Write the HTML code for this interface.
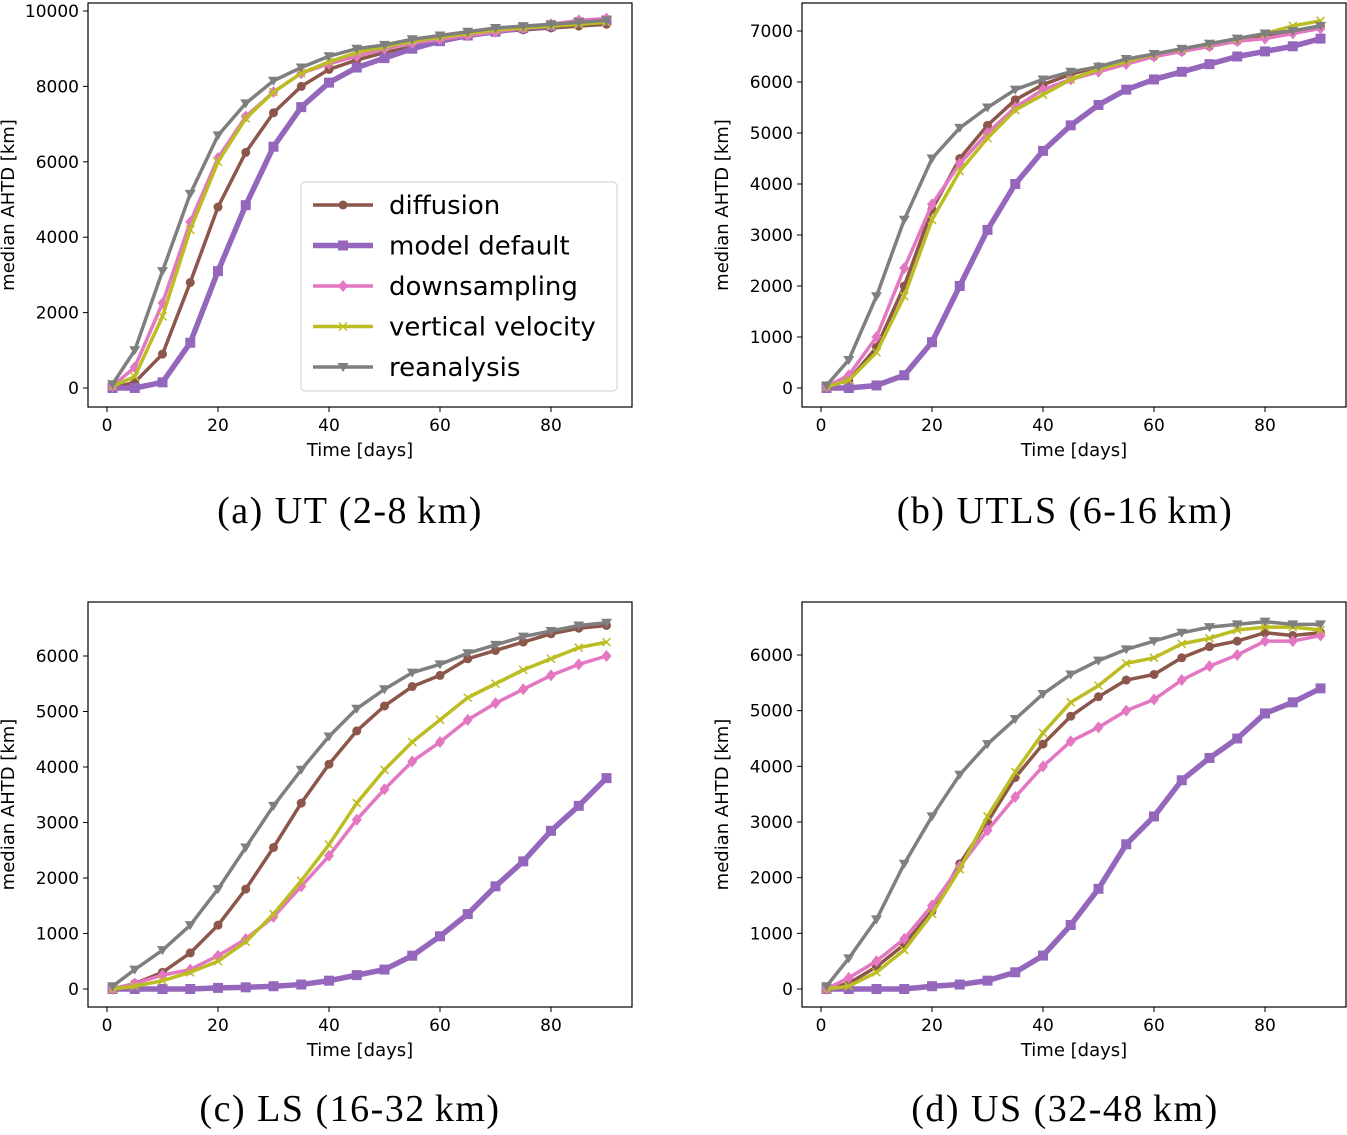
<!DOCTYPE html>
<html><head><meta charset="utf-8"><style>
body{margin:0;background:#fff;}
svg text{font-family:"DejaVu Sans","Liberation Sans",sans-serif;}
.cap{font-family:"Liberation Serif",serif;font-size:38px;letter-spacing:1.5px;}
</style></head><body>
<svg id="fig" width="1347" height="1130" xmlns="http://www.w3.org/2000/svg"></svg>
<script>
const days=[1,5,10,15,20,25,30,35,40,45,50,55,60,65,70,75,80,85,90];
const seriesNames=["diffusion","model default","downsampling","vertical velocity","reanalysis"];
const aDiff=[0,150,900,2800,4800,6250,7300,8000,8450,8700,8900,9050,9200,9350,9450,9500,9550,9600,9650];
const aMd=[0,0,150,1200,3100,4850,6400,7450,8100,8500,8750,9000,9200,9350,9450,9550,9600,9700,9750];
const aDs=[50,550,2250,4400,6100,7200,7850,8350,8600,8800,9000,9150,9250,9350,9450,9550,9650,9750,9800];
const aVv=[50,300,1900,4200,6000,7150,7850,8350,8650,8900,9050,9200,9300,9400,9500,9550,9600,9650,9700];
const aRe=[100,1000,3100,5150,6700,7550,8150,8500,8800,9000,9100,9250,9350,9450,9550,9600,9650,9700,9750];
const bDiff=[20,150,800,2000,3500,4500,5150,5650,5950,6150,6300,6400,6500,6600,6700,6800,6900,7000,7100];
const bMd=[0,0,50,250,900,2000,3100,4000,4650,5150,5550,5850,6050,6200,6350,6500,6600,6700,6850];
const bDs=[30,250,1000,2350,3600,4400,5000,5500,5850,6050,6200,6350,6500,6600,6700,6800,6850,6950,7050];
const bVv=[20,150,700,1800,3300,4250,4900,5450,5750,6050,6250,6400,6550,6650,6750,6850,6950,7100,7200];
const bRe=[50,550,1800,3300,4500,5100,5500,5850,6050,6200,6300,6450,6550,6650,6750,6850,6950,7000,7100];
const cDiff=[0,100,300,650,1150,1800,2550,3350,4050,4650,5100,5450,5650,5950,6100,6250,6400,6500,6550];
const cMd=[0,0,0,0,20,30,50,80,150,250,350,600,950,1350,1850,2300,2850,3300,3800];
const cDs=[0,100,250,350,600,900,1300,1850,2400,3050,3600,4100,4450,4850,5150,5400,5650,5850,6000];
const cVv=[0,50,150,300,500,850,1350,1950,2600,3350,3950,4450,4850,5250,5500,5750,5950,6150,6250];
const cRe=[50,350,700,1150,1800,2550,3300,3950,4550,5050,5400,5700,5850,6050,6200,6350,6450,6550,6600];
const dDiff=[0,100,400,800,1400,2250,3000,3800,4400,4900,5250,5550,5650,5950,6150,6250,6400,6350,6400];
const dMd=[0,0,0,0,50,80,150,300,600,1150,1800,2600,3100,3750,4150,4500,4950,5150,5400];
const dDs=[0,200,500,900,1500,2200,2850,3450,4000,4450,4700,5000,5200,5550,5800,6000,6250,6250,6350];
const dVv=[0,50,300,700,1350,2150,3100,3900,4600,5150,5450,5850,5950,6200,6300,6450,6500,6500,6450];
const dRe=[50,550,1250,2250,3100,3850,4400,4850,5300,5650,5900,6100,6250,6400,6500,6550,6600,6550,6550];
const xTicks=[0,20,40,60,80];
const yTicksA=[0,2000,4000,6000,8000,10000];
const yTicksB=[0,1000,2000,3000,4000,5000,6000,7000];
const yTicksC=[0,1000,2000,3000,4000,5000,6000];
const captions=["(a) UT (2-8\u2009km)","(b) UTLS (6-16\u2009km)","(c) LS (16-32\u2009km)","(d) US (32-48\u2009km)"];

const NS="http://www.w3.org/2000/svg";
const svg=document.getElementById('fig');
function mk(tag,attrs,parent){const e=document.createElementNS(NS,tag);for(const k in attrs)e.setAttribute(k,attrs[k]);(parent||svg).appendChild(e);return e;}
const colors=["#8c564b","#9467bd","#e377c2","#bcbd22","#7f7f7f"];
const widths=[3.5,5.5,3.5,3.5,3.5];

function marker(g,i,x,y){
  const c=colors[i];let m;
  if(i===0)m=mk('circle',{cx:x,cy:y,r:4.5,fill:c},g);
  else if(i===1)m=mk('rect',{x:x-5,y:y-5,width:10,height:10,fill:c},g);
  else if(i===2)m=mk('polygon',{points:`${x},${y-6} ${x+5},${y} ${x},${y+6} ${x-5},${y}`,fill:c},g);
  else if(i===3)m=mk('path',{d:`M${x-4},${y-4}L${x+4},${y+4}M${x-4},${y+4}L${x+4},${y-4}`,stroke:c,'stroke-width':1.5,fill:'none'},g);
  else m=mk('polygon',{points:`${x-5.5},${y-4} ${x+5.5},${y-4} ${x},${y+5}`,fill:c},g);
  
  
}

function panel(id,L,T,R,B,x0px,x80px,y0px,yTop,yTopVal,yticks,data,cap,capX,capY){
  const g=mk('g',{});
  
  
  const sx=v=>x0px+(x80px-x0px)*v/80;
  const sy=v=>y0px-(y0px-yTop)*v/yTopVal;
  const clip=mk('clipPath',{id:'clip'+id},g);
  mk('rect',{x:L,y:T,width:R-L,height:B-T},clip);
  const sg=mk('g',{'clip-path':`url(#clip${id})`},g);
  data.forEach((arr,i)=>{
    const pts=arr.map((v,j)=>sx(days[j])+','+sy(v)).join(' ');
    const pl=mk('polyline',{points:pts,fill:'none',stroke:colors[i],'stroke-width':widths[i],'stroke-linejoin':'round'},sg);
    
    
    arr.forEach((v,j)=>marker(sg,i,sx(days[j]),sy(v)));
  });
  const fr=mk('rect',{x:L,y:T,width:R-L,height:B-T,fill:'none',stroke:'#000','stroke-width':1.2},g);
  
  
  xTicks.forEach(t=>{const x=sx(t);mk('line',{x1:x,y1:B,x2:x,y2:B+5,stroke:'#000'},g);
    const tx=mk('text',{x:x,y:B+24,'font-size':17,'text-anchor':'middle'},g);tx.textContent=t;
    });
  yticks.forEach(t=>{const y=sy(t);mk('line',{x1:L,y1:y,x2:L-5,y2:y,stroke:'#000'},g);
    const tx=mk('text',{x:L-9,y:y+6,'font-size':17,'text-anchor':'end'},g);tx.textContent=t;
    });
  const xl=mk('text',{x:(L+R)/2,y:B+49,'font-size':18,'text-anchor':'middle'},g);xl.textContent='Time [days]';
  
  const yx=L-74, yy=(T+B)/2;
  const yl=mk('text',{x:yx,y:yy,'font-size':18,'text-anchor':'middle',transform:`rotate(-90 ${yx} ${yy})`},g);yl.textContent='median AHTD [km]';
  
  const c=mk('text',{x:capX,y:capY,'text-anchor':'middle',class:'cap'},g);c.textContent=cap;
  
  return g;
}
const gA=panel('a',88,3,632,407,107,551,388,11,10000,yTicksA,[aDiff,aMd,aDs,aVv,aRe],captions[0],350,523);
panel('b',802,3,1346,407,821,1265,388,31,7000,yTicksB,[bDiff,bMd,bDs,bVv,bRe],captions[1],1065,523);
panel('c',88,602,632,1007,107,551,989,656,6000,yTicksC,[cDiff,cMd,cDs,cVv,cRe],captions[2],350,1121);
panel('d',802,602,1346,1007,821,1265,989,655,6000,yTicksC,[dDiff,dMd,dDs,dVv,dRe],captions[3],1065,1121);

// legend
const lg=mk('g',{},gA);


mk('rect',{x:301,y:182,width:316,height:209,rx:4,fill:'#fff','fill-opacity':0.85,stroke:'#ccc'},lg);
seriesNames.forEach((n,i)=>{
  const y=205+i*40.5;
  const e=mk('g',{},lg);
  
  
  mk('line',{x1:313,y1:y,x2:373,y2:y,stroke:colors[i],'stroke-width':widths[i]},e);
  marker(e,i,343,y);
  const t=mk('text',{x:389,y:y+9,'font-size':26},e);t.textContent=n;
});
</script>
</body></html>
